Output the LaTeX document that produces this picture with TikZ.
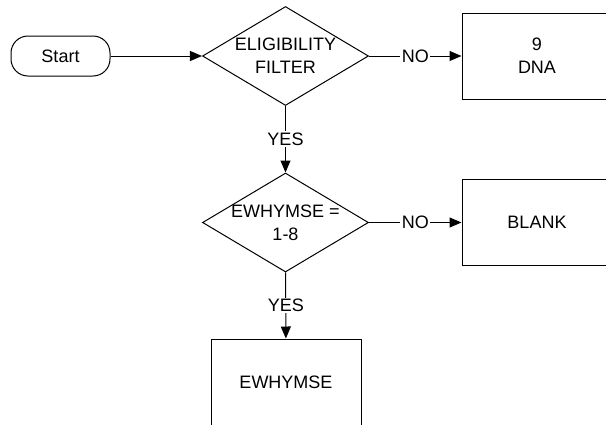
\documentclass[tikz,border=0pt]{standalone}
\usepackage{fontspec}
\setmainfont{Liberation Sans}
\usetikzlibrary{arrows.meta,shapes.geometric}
\begin{document}
\begin{tikzpicture}[x=1pt,y=-1pt,
  every node/.style={font=\fontsize{18}{23}\selectfont},
  base/.style={draw=black,line width=1pt},
  startbox/.style={base,rectangle,rounded corners=17pt,minimum width=99pt,minimum height=40pt,inner sep=0pt},
  decision/.style={base,diamond,minimum width=166pt,minimum height=99pt,inner sep=0pt},
  procbox/.style={base,rectangle,minimum width=150pt,minimum height=86pt,inner sep=0pt,align=center},
  txt/.style={align=center,inner sep=0pt},
  conn/.style={line width=1pt,-{Triangle[length=12pt,width=10pt]}},
  lbl/.style={fill=white,inner sep=1.5pt}
]
\useasboundingbox (0,0) rectangle (606,424);
\clip (0,0) rectangle (606,424);
\node[startbox] (start) at (60.5,56) {Start};
\node[decision] (d1) at (285.5,56) {};
\node[txt] (d1t) at (d1.center) {ELIGIBILITY\\FILTER};
\node[procbox] (dna) at (537,56) {9\\DNA};
\node[decision] (d2) at (285.5,222.5) {};
\node[txt] (d2t) at (d2.center) {EWHYMSE =\\1-8};
\node[procbox] (blank) at (537,222.5) {BLANK};
\node[procbox] (ew) at (286,382) {EWHYMSE};
\draw[conn] (start) -- (d1);
\draw[conn] (d1) -- node[lbl] (no1) {NO} (dna);
\draw[conn] (d1) -- node[lbl] (yes1) {YES} (d2);
\draw[conn] (d2) -- node[lbl] (no2) {NO} (blank);
\draw[conn] (d2) -- node[lbl] (yes2) {YES} (ew);
\end{tikzpicture}
\end{document}
